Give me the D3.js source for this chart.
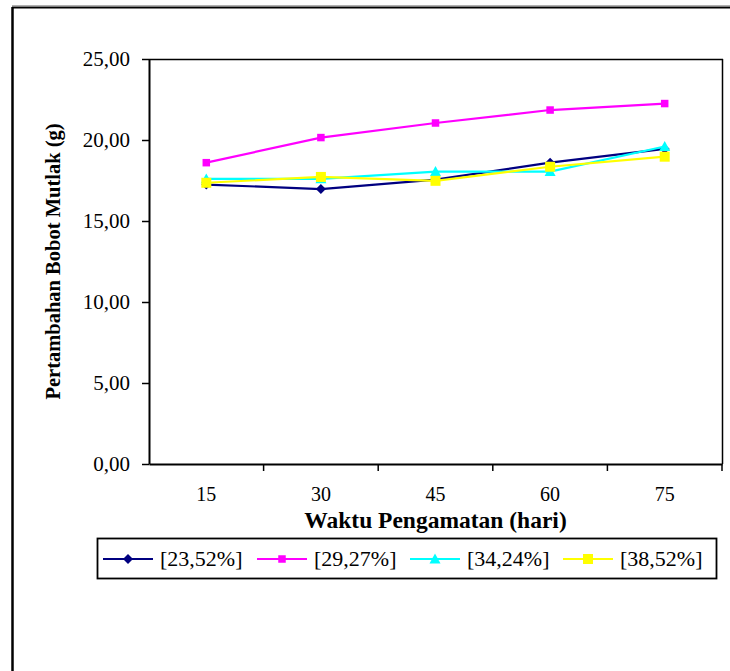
<!DOCTYPE html>
<html>
<head>
<meta charset="utf-8">
<script src="https://cdn.jsdelivr.net/npm/d3@7/dist/d3.min.js"></script>
<style>
  html, body { margin: 0; padding: 0; background: #fff; }
  svg { display: block; font-family: "Liberation Serif", "Times New Roman", serif; }
</style>
</head>
<body>
<svg id="chart" width="730" height="671"></svg>
<script>
// Observation days (x categories)
const days = ["15", "30", "45", "60", "75"];

// Absolute weight gain (g) per treatment
const s2352 = [17.25, 16.97, 17.55, 18.6, 19.45];
const s2927 = [18.6, 20.15, 21.05, 21.85, 22.25];
const s3424 = [17.6, 17.6, 18.05, 18.05, 19.6];
const s3852 = [17.36, 17.72, 17.48, 18.35, 18.97];

const seriesNames = ["[23,52%]", "[29,27%]", "[34,24%]", "[38,52%]"];
const seriesColors = ["#000080", "#FF00FF", "#00FFFF", "#FFFF00"];
const seriesMarkers = ["diamond", "smallsquare", "triangle", "square"];

const yTicks = [0, 5, 10, 15, 20, 25];

const series = [s2352, s2927, s3424, s3852].map((vals, i) => ({
  name: seriesNames[i], color: seriesColors[i], marker: seriesMarkers[i], values: vals
}));

const svg = d3.select("#chart");

// Outer chart frame (top and left edges)
svg.append("line").attr("x1", 12).attr("y1", 5.5).attr("x2", 730).attr("y2", 5.5)
  .attr("stroke", "#b0b0b0").attr("stroke-width", 1);
svg.append("line").attr("x1", 12).attr("y1", 7.5).attr("x2", 730).attr("y2", 7.5)
  .attr("stroke", "#000").attr("stroke-width", 2);
svg.append("line").attr("x1", 12.5).attr("y1", 7).attr("x2", 12.5).attr("y2", 671)
  .attr("stroke", "#000").attr("stroke-width", 2.5);

const plot = { left: 149, right: 722, top: 59, bottom: 464 };

const x = d3.scaleBand().domain(days).range([plot.left, plot.right]).padding(0);
const y = d3.scaleLinear().domain([0, 25]).range([plot.bottom, plot.top]);

// Plot area border (top and right)
svg.append("line").attr("x1", plot.left).attr("y1", plot.top + 0.5).attr("x2", plot.right + 1).attr("y2", plot.top + 0.5)
  .attr("stroke", "#000").attr("stroke-width", 1.5);
svg.append("line").attr("x1", plot.right + 0.5).attr("y1", plot.top).attr("x2", plot.right + 0.5).attr("y2", plot.bottom)
  .attr("stroke", "#000").attr("stroke-width", 1.5);

// Y axis
const fmt = v => d3.format(".2f")(v).replace(".", ",");
const yAxis = svg.append("g").attr("transform", `translate(${plot.left},0)`)
  .call(d3.axisLeft(y).tickValues(yTicks).tickFormat(fmt).tickSizeOuter(0).tickSizeInner(7).tickPadding(12));
yAxis.select(".domain").attr("stroke", "#000").attr("stroke-width", 2);
yAxis.selectAll(".tick line").attr("stroke", "#000").attr("stroke-width", 1.5);
yAxis.selectAll(".tick text").attr("font-family", "Liberation Serif").attr("font-size", 21).attr("fill", "#000");

// X axis: ticks between categories
const xAxis = svg.append("g").attr("transform", `translate(0,${plot.bottom})`)
  .call(d3.axisBottom(x).tickSize(0).tickPadding(23).tickSizeOuter(0));
xAxis.select(".domain").attr("stroke", "#000").attr("stroke-width", 2);
xAxis.selectAll(".tick text").attr("font-family", "Liberation Serif").attr("font-size", 20).attr("fill", "#000");
xAxis.selectAll(".sep").data(days).enter().append("line")
  .attr("class", "sep")
  .attr("x1", d => x(d) + x.bandwidth())
  .attr("x2", d => x(d) + x.bandwidth())
  .attr("y1", 0).attr("y2", 7)
  .attr("stroke", "#000").attr("stroke-width", 1.5);

// Axis titles
svg.append("text").attr("x", (plot.left + plot.right) / 2).attr("y", 528)
  .attr("text-anchor", "middle").attr("font-weight", "bold").attr("font-size", 23.5)
  .text("Waktu Pengamatan (hari)");
svg.append("text").attr("transform", `translate(60,${(plot.top + plot.bottom) / 2}) rotate(-90)`)
  .attr("text-anchor", "middle").attr("font-weight", "bold").attr("font-size", 20.5)
  .text("Pertambahan Bobot Mutlak (g)");

// Marker drawing
function drawMarker(sel, type, color, cx, cy) {
  if (type === "diamond") {
    const r = 5;
    sel.append("path").attr("d", `M${cx},${cy - r}L${cx + r},${cy}L${cx},${cy + r}L${cx - r},${cy}Z`).attr("fill", color);
  } else if (type === "smallsquare") {
    const s = 7.5;
    sel.append("rect").attr("x", cx - s / 2).attr("y", cy - s / 2).attr("width", s).attr("height", s).attr("fill", color);
  } else if (type === "triangle") {
    const r = 5.5;
    sel.append("path").attr("d", `M${cx},${cy - r}L${cx + r},${cy + r * 0.8}L${cx - r},${cy + r * 0.8}Z`).attr("fill", color);
  } else {
    const s = 10;
    sel.append("rect").attr("x", cx - s / 2).attr("y", cy - s / 2).attr("width", s).attr("height", s).attr("fill", color);
  }
}

const cx = d => x(d) + x.bandwidth() / 2;
const line = d3.line().x((v, i) => cx(days[i])).y(v => y(v));

const marks = svg.append("g");
series.forEach(s => {
  marks.append("path").datum(s.values).attr("d", line)
    .attr("fill", "none").attr("stroke", s.color).attr("stroke-width", 2.2);
  s.values.forEach((v, i) => drawMarker(marks, s.marker, s.color, cx(days[i]), y(v)));
});

// Legend
const legend = svg.append("g");
legend.append("rect").attr("x", 97.5).attr("y", 538.5).attr("width", 619).attr("height", 40)
  .attr("fill", "#fff").attr("stroke", "#000").attr("stroke-width", 1.8);
const legendX = [103, 257, 410, 563];
series.forEach((s, i) => {
  const lx = legendX[i], ly = 559;
  legend.append("line").attr("x1", lx).attr("x2", lx + 50).attr("y1", ly).attr("y2", ly)
    .attr("stroke", s.color).attr("stroke-width", 2.2);
  drawMarker(legend, s.marker, s.color, lx + 25, ly);
  legend.append("text").attr("x", lx + 57).attr("y", ly + 7).attr("font-size", 22).text(s.name);
});
</script>
</body>
</html>
